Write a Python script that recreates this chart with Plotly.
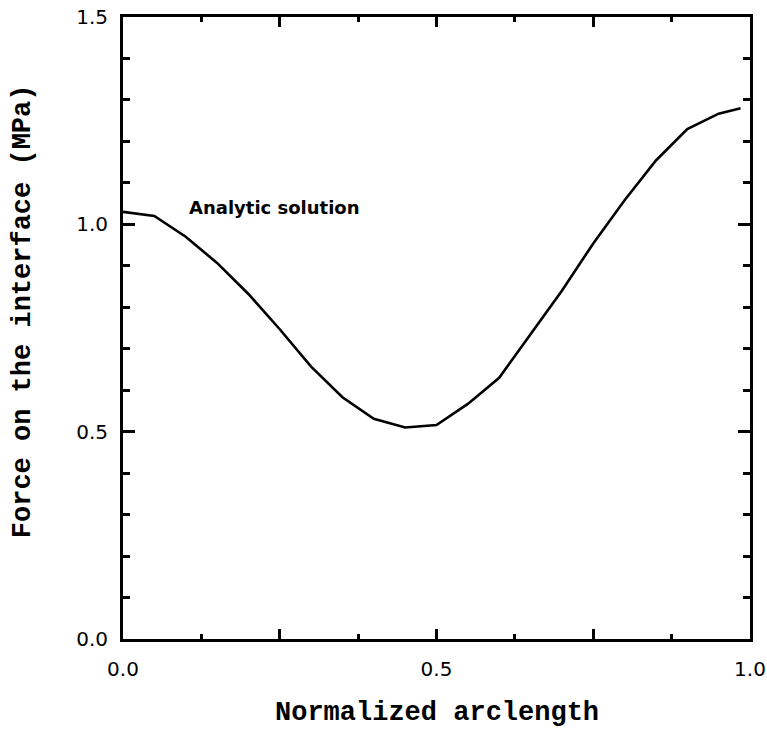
import plotly.graph_objects as go

# Normalized arclength along the interface and the analytic force (MPa)
arclength = [0.0, 0.05, 0.10, 0.15, 0.20, 0.25, 0.30, 0.35, 0.40, 0.45, 0.50,
             0.55, 0.60, 0.65, 0.70, 0.75, 0.80, 0.85, 0.90, 0.95, 0.985]
force = [1.03, 1.02, 0.97, 0.907, 0.832, 0.747, 0.657, 0.583, 0.531, 0.51, 0.516,
         0.567, 0.63, 0.736, 0.84, 0.954, 1.058, 1.154, 1.23, 1.267, 1.28]

x_tickvals = [0.0, 0.25, 0.5, 0.75, 1.0]
x_ticktext = ["0.0", "", "0.5", "", "1.0"]
y_tickvals = [0.0, 0.5, 1.0, 1.5]
y_ticktext = ["0.0", "0.5", "1.0", "1.5"]

curve_label = "Analytic solution"
x_title = "Normalized arclength"
y_title = "Force on the interface (MPa)"

fig = go.Figure()
fig.add_trace(go.Scatter(
    x=arclength, y=force, mode="lines",
    line=dict(color="black", width=2.6),
    showlegend=False, hoverinfo="skip",
))

tick_font = dict(family="DejaVu Sans", size=20, color="black")
title_font = dict(family="Courier New, Liberation Mono, Courier, monospace",
                  size=27, color="black", weight="bold")

fig.update_xaxes(
    range=[0, 1], showgrid=False, zeroline=False, automargin=False,
    showline=True, linecolor="black", linewidth=3, mirror="ticks",
    ticks="inside", ticklen=10, tickwidth=2.5, tickcolor="black",
    tickvals=x_tickvals, ticktext=x_ticktext, tickfont=tick_font,
    ticklabelstandoff=10,
    minor=dict(ticks="inside", dtick=0.125, tick0=0, ticklen=5,
               tickwidth=2.5, tickcolor="black"),
)
fig.update_yaxes(
    range=[0, 1.5], showgrid=False, zeroline=False, automargin=False,
    showline=True, linecolor="black", linewidth=3, mirror="ticks",
    ticks="inside", ticklen=12, tickwidth=2.5, tickcolor="black",
    tickvals=y_tickvals, ticktext=y_ticktext, tickfont=tick_font,
    ticklabelstandoff=8,
    minor=dict(ticks="inside", dtick=0.1, tick0=0, ticklen=7,
               tickwidth=2.5, tickcolor="black"),
)

fig.add_annotation(
    x=0.242, y=1.04, xref="x", yref="y", text=f"<b>{curve_label}</b>",
    showarrow=False, font=dict(family="DejaVu Sans", size=18, color="black"),
    xanchor="center", yanchor="middle",
)
fig.add_annotation(
    x=0.5, y=-0.119, xref="paper", yref="paper", text=x_title,
    showarrow=False, font=title_font, xanchor="center", yanchor="middle",
)
fig.add_annotation(
    x=-0.1595, y=0.527, xref="paper", yref="paper", text=y_title,
    showarrow=False, font=title_font, textangle=-90,
    xanchor="center", yanchor="middle",
)

fig.update_layout(
    width=767, height=739,
    margin=dict(l=123, r=17, t=17, b=100),
    plot_bgcolor="white", paper_bgcolor="white",
)

fig.write_html("out.html")
